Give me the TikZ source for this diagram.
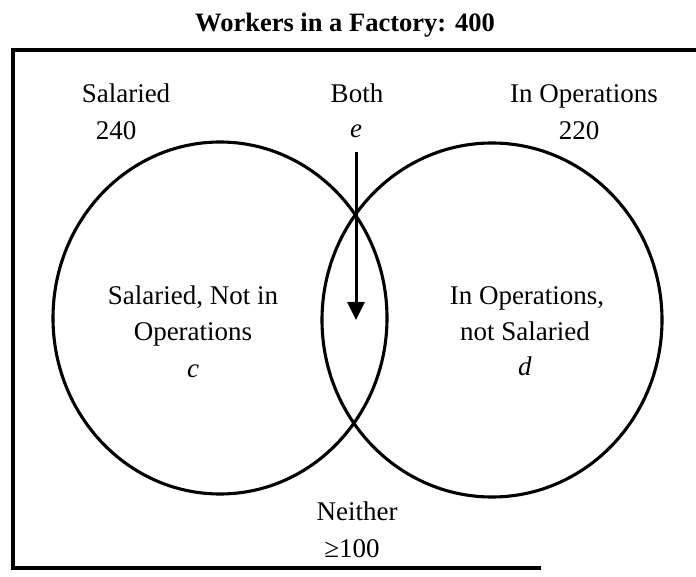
\documentclass[tikz,border=0pt]{standalone}
\usepackage{fontspec}
\setmainfont{Liberation Serif}
\usepackage{tikz}
\usetikzlibrary{arrows.meta}

\tikzset{
    lbl/.style={anchor=base, inner sep=0pt, font=\fontsize{27}{32}\selectfont},
    ttl/.style={anchor=base, inner sep=0pt, font=\fontsize{26.5}{30}\selectfont\bfseries},
    ring/.style={line width=3.1pt},
    frame/.style={line width=3.2pt},
    pointer/.style={line width=3pt, -{Triangle[length=18pt, width=17pt]}}
}

\begin{document}
\begin{tikzpicture}[x=1pt, y=-1pt]
                \useasboundingbox (0, 0) rectangle (696, 577);

                \node[ttl] (title) at (345, 32) {Workers in a Factory: 400};

                \draw[frame] (541, 568) -- (13, 568) -- (13, 50) -- (710, 50);

                \draw[ring] (220, 318) ellipse [x radius=167, y radius=176];
                \draw[ring] (492, 320) ellipse [x radius=170, y radius=177];

                \node[lbl] (sal) at (126, 103) {Salaried};
                \node[lbl] (saln) at (116, 140) {240};
                \node[lbl] (both) at (357, 103) {Both};
                \node[lbl, inner sep=4pt] (e) at (356, 138) {\textit{e}};
                \node[lbl] (ops) at (584, 103) {In Operations};
                \node[lbl] (opsn) at (579, 140) {220};

                \node[lbl] (cl1) at (193, 305) {Salaried, Not in};
                \node[lbl] (cl2) at (193, 340) {Operations};
                \node[lbl] (c) at (193, 377) {\textit{c}};

                \node[lbl] (dl1) at (527, 305) {In Operations,};
                \node[lbl] (dl2) at (525, 340) {not Salaried};
                \node[lbl] (d) at (525, 375) {\textit{d}};

                \node[lbl] (neither) at (357, 520) {Neither};
                \node[lbl] (neithern) at (352, 557) {≥100};

                \coordinate (tip) at (356, 320);

                \draw[pointer, shorten <=10pt]
                (e) -- (tip);
            \end{tikzpicture}
\end{document}
